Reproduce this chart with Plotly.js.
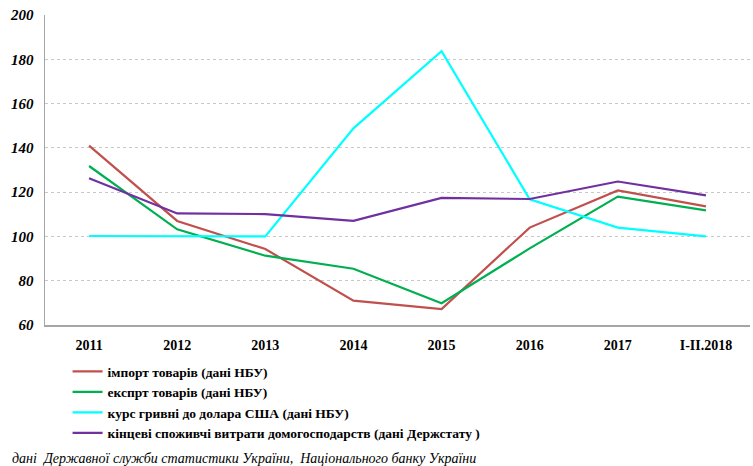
<!DOCTYPE html>
<html><head><meta charset="utf-8">
<script src="https://cdn.plot.ly/plotly-3.0.1.min.js"></script>
<style>html,body{margin:0;padding:0;background:#fff;}#chart{width:753px;height:466px;}</style>
</head><body><div id="chart"></div>
<script>
const categories = ["2011","2012","2013","2014","2015","2016","2017","I-II.2018"];
const importGoods = [141, 107, 94.3, 71, 67.2, 104, 120.8, 113.6];
const exportGoods = [131.8, 103.2, 91.3, 85.4, 69.8, 94.6, 118, 111.8];
const exchangeRate = [100.2, 100.2, 100, 148.8, 183.7, 116.8, 104, 100];
const householdSpending = [126.3, 110.4, 110.1, 107, 117.4, 116.9, 124.8, 118.5];
const seriesNames = [
  "імпорт товарів (дані НБУ)",
  "експрт товарів (дані НБУ)",
  "курс гривні до долара США (дані НБУ)",
  "кінцеві споживчі витрати домогосподарств (дані Держстату )"
];
const yTicks = [60, 80, 100, 120, 140, 160, 180, 200];
const sourceNote = "дані  Державної служби статистики України,  Національного банку України";

const FONT = "'Liberation Serif', 'Times New Roman', serif";
const colors = ["#C0504D", "#00B050", "#00FFFF", "#7030A0"];
const allSeries = [importGoods, exportGoods, exchangeRate, householdSpending];
const traces = allSeries.map((vals, i) => ({
  x: categories, y: vals, type: "scatter", mode: "lines",
  name: seriesNames[i], line: {color: colors[i], width: 2.2}
}));

const layout = {
  width: 753, height: 466,
  margin: {l: 45, r: 3, t: 15, b: 141},
  paper_bgcolor: "#fff", plot_bgcolor: "#fff",
  showlegend: true,
  font: {family: FONT, color: "#000"},
  xaxis: {
    type: "category", range: [-0.5, 7.5],
    showline: true, linecolor: "#A6A6A6", linewidth: 2,
    showgrid: false, zeroline: false, ticks: "",
    tickfont: {family: FONT, size: 14, color: "#000", weight: "bold"},
    ticklabelstandoff: 6
  },
  yaxis: {
    range: [60, 200], tickvals: yTicks, ticktext: yTicks.map(String),
    showline: true, linecolor: "#A6A6A6", linewidth: 1.5,
    showgrid: true, gridcolor: "#C8C8C8", griddash: "dot", gridwidth: 1,
    zeroline: false, ticks: "",
    tickfont: {family: FONT, size: 15, color: "#000", weight: "bold", style: "italic"},
    ticklabelstandoff: 7
  },
  legend: {
    orientation: "v", x: 0.032, xanchor: "left", y: -0.1, yanchor: "top",
    font: {family: FONT, size: 13.5, color: "#000", weight: "bold"},
    bgcolor: "rgba(0,0,0,0)", itemwidth: 30, tracegroupgap: 0
  },
  annotations: [{
    text: sourceNote, xref: "paper", yref: "paper", x: 0, y: 0,
    xanchor: "left", yanchor: "middle", showarrow: false,
    font: {family: FONT, size: 14, color: "#000", style: "italic"}
  }]
};
layout.annotations[0].x = (10 - 45) / 705;
layout.annotations[0].y = (325 - 459) / 310;
Plotly.newPlot("chart", traces, layout, {displayModeBar: false, staticPlot: true});
</script></body></html>
